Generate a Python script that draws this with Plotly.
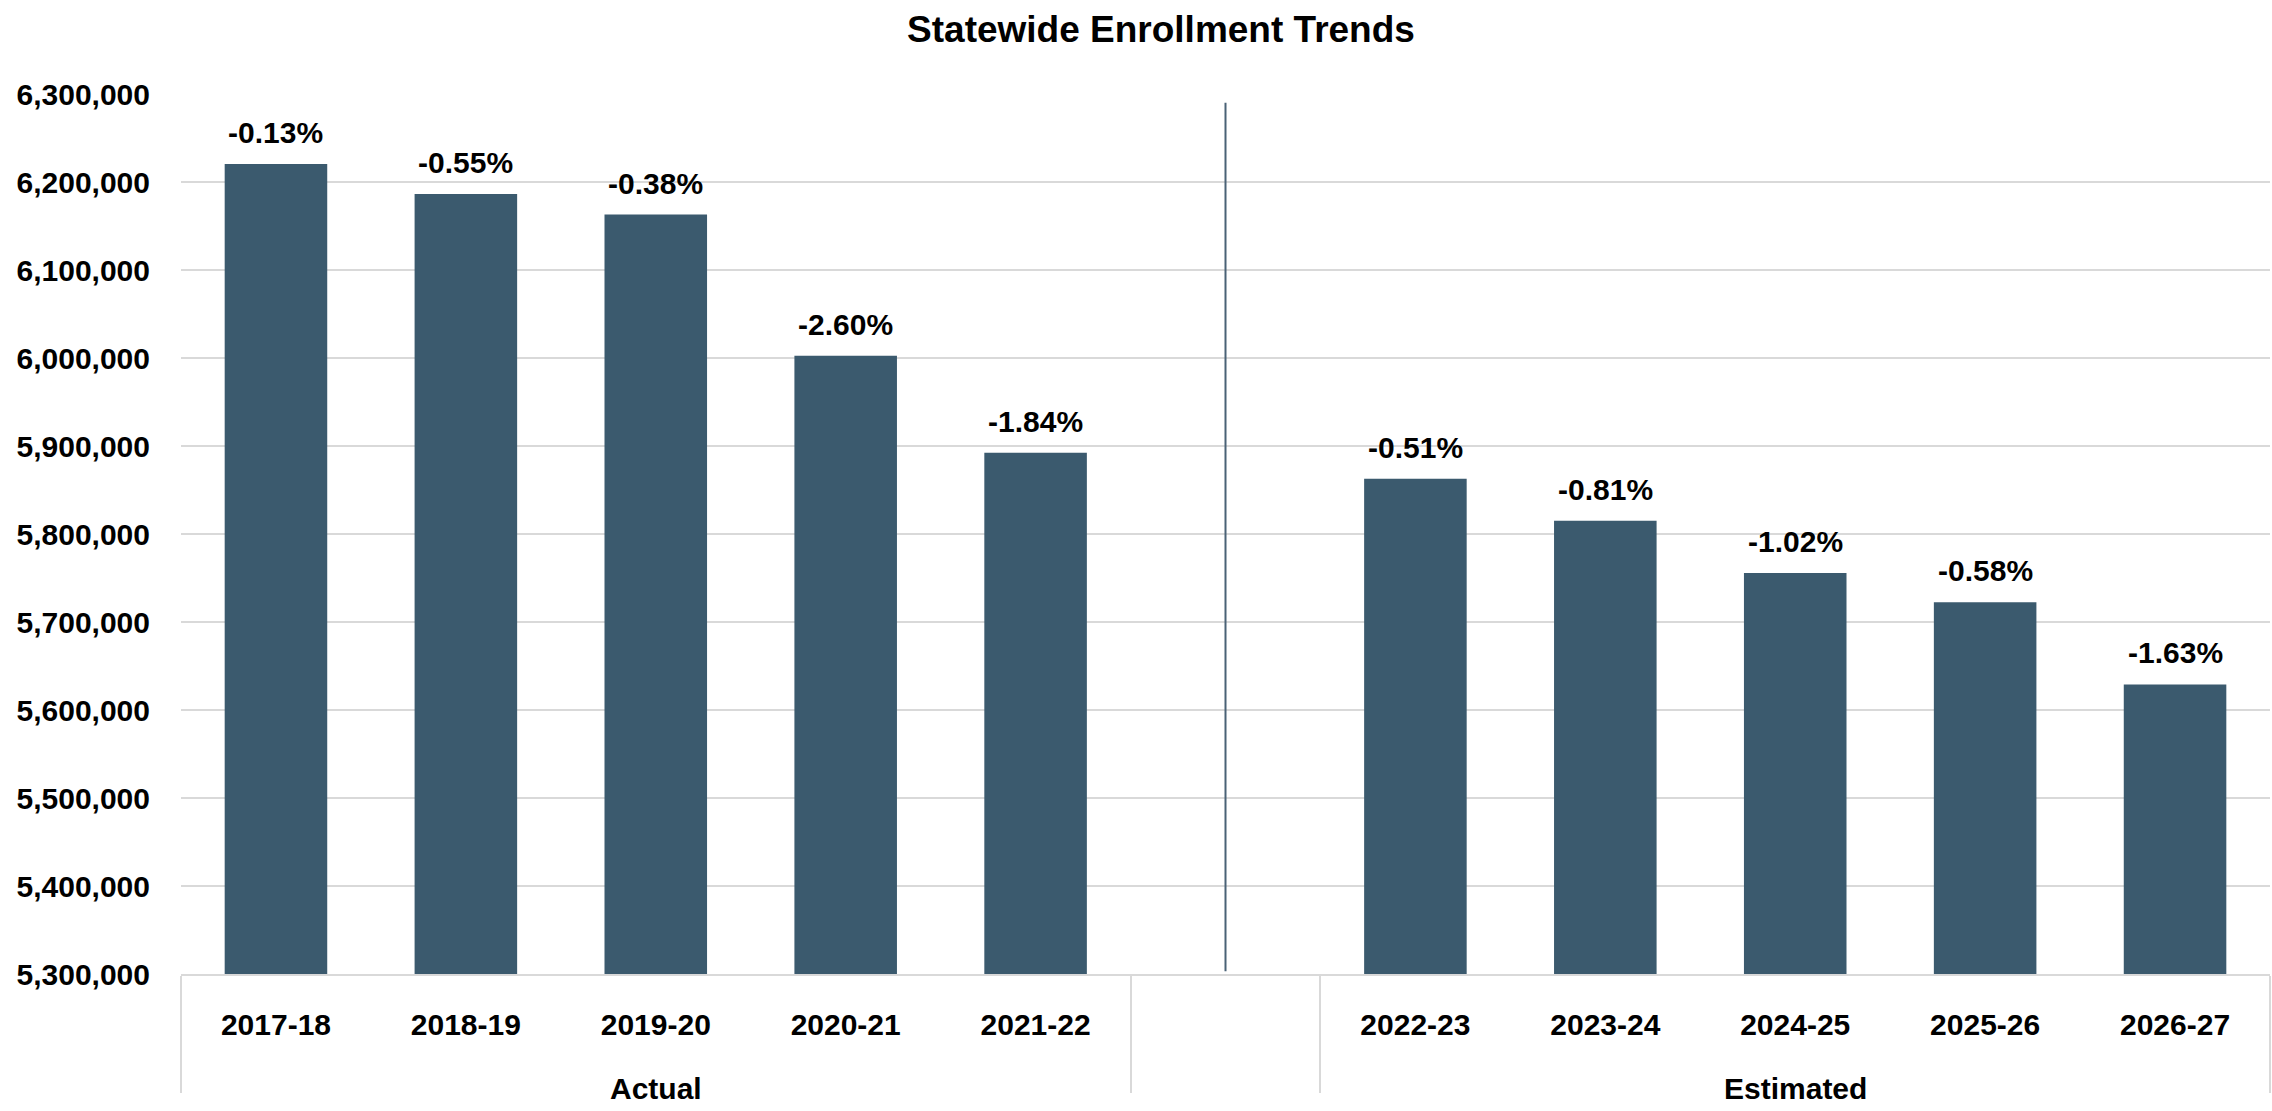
import plotly.graph_objects as go

# School years, grouped into actual and estimated periods
years = ["2017-18", "2018-19", "2019-20", "2020-21", "2021-22", " ",
         "2022-23", "2023-24", "2024-25", "2025-26", "2026-27"]
period_names = ["Actual", "Estimated"]
# group keys on the axis: blank keys, the period names are drawn as annotations
group_keys = ["\u200b<br>\u200b", "\u200b\u200b<br>\u200b", "\u200b\u200b\u200b<br>\u200b"]
periods = [group_keys[0]] * 5 + [group_keys[1]] + [group_keys[2]] * 5

# Statewide enrollment (the blank slot separates actual from estimated)
enrollment = [6220413, 6186278, 6163001, 6002523, 5892240, None,
              5862700, 5815000, 5755600, 5722400, 5629100]

# Year-over-year change shown above each bar
change_labels = ["-0.13%", "-0.55%", "-0.38%", "-2.60%", "-1.84%", "",
                 "-0.51%", "-0.81%", "-1.02%", "-0.58%", "-1.63%"]

# Divider line between the two periods
divider_x = [[group_keys[1], group_keys[1]], [" ", " "]]
divider_y = [5303000, 6290000]

BAR = "#3b5a6e"
GRID = "#d9d9d9"
FONT = "Liberation Sans, Arial, sans-serif"
SIZE = 30

fig = go.Figure()
fig.add_trace(go.Bar(
    x=[periods, years],
    y=enrollment,
    marker=dict(color=BAR, line=dict(width=0)),
    showlegend=False,
))
fig.add_trace(go.Scatter(
    x=divider_x,
    y=divider_y,
    mode="lines",
    line=dict(color="#4a6276", width=2),
    showlegend=False,
    hoverinfo="skip",
))

# percent-change labels sitting above each bar
for idx, (value, label) in enumerate(zip(enrollment, change_labels)):
    if value is None:
        continue
    fig.add_annotation(
        x=idx, xref="x", y=value, yref="y",
        yanchor="bottom", yshift=13,
        text=label, showarrow=False,
        font=dict(family=FONT, size=SIZE, color="#000000", weight="bold"),
    )

# period names centred under their five years (category indices 2 and 8)
for name, idx in zip(period_names, [2, 8]):
    fig.add_annotation(
        x=idx, xref="x",
        y=-(1088 - 974) / 880, yref="paper",
        yanchor="middle",
        text=name, showarrow=False,
        font=dict(family=FONT, size=SIZE, color="#000000", weight="bold"),
    )

fig.update_layout(
    width=2272,
    height=1111,
    margin=dict(l=181, r=2, t=94, b=137),
    paper_bgcolor="white",
    plot_bgcolor="white",
    bargap=0.46,
    font=dict(family=FONT, size=SIZE, color="#000000"),
    title=dict(
        text="<b>Statewide Enrollment Trends</b>",
        x=0.511, xanchor="center",
        y=1 - 29 / 1111, yanchor="middle",
        font=dict(family=FONT, size=37, color="#000000"),
    ),
    xaxis=dict(
        type="multicategory",
        automargin=False,
        showline=True,
        linecolor=GRID,
        linewidth=2,
        showgrid=False,
        ticks="",
        ticklabelstandoff=23,
        showdividers=True,
        dividercolor=GRID,
        dividerwidth=2,
        tickfont=dict(family=FONT, size=SIZE, color="#000000", weight="bold"),
    ),
    yaxis=dict(
        range=[5300000, 6300000],
        dtick=100000,
        tickformat=",d",
        showgrid=True,
        gridcolor=GRID,
        gridwidth=2,
        zeroline=False,
        showline=False,
        ticks="",
        ticklabelstandoff=30,
        automargin=False,
        tickfont=dict(family=FONT, size=SIZE, color="#000000", weight="bold"),
    ),
)

fig.write_html("out.html")
